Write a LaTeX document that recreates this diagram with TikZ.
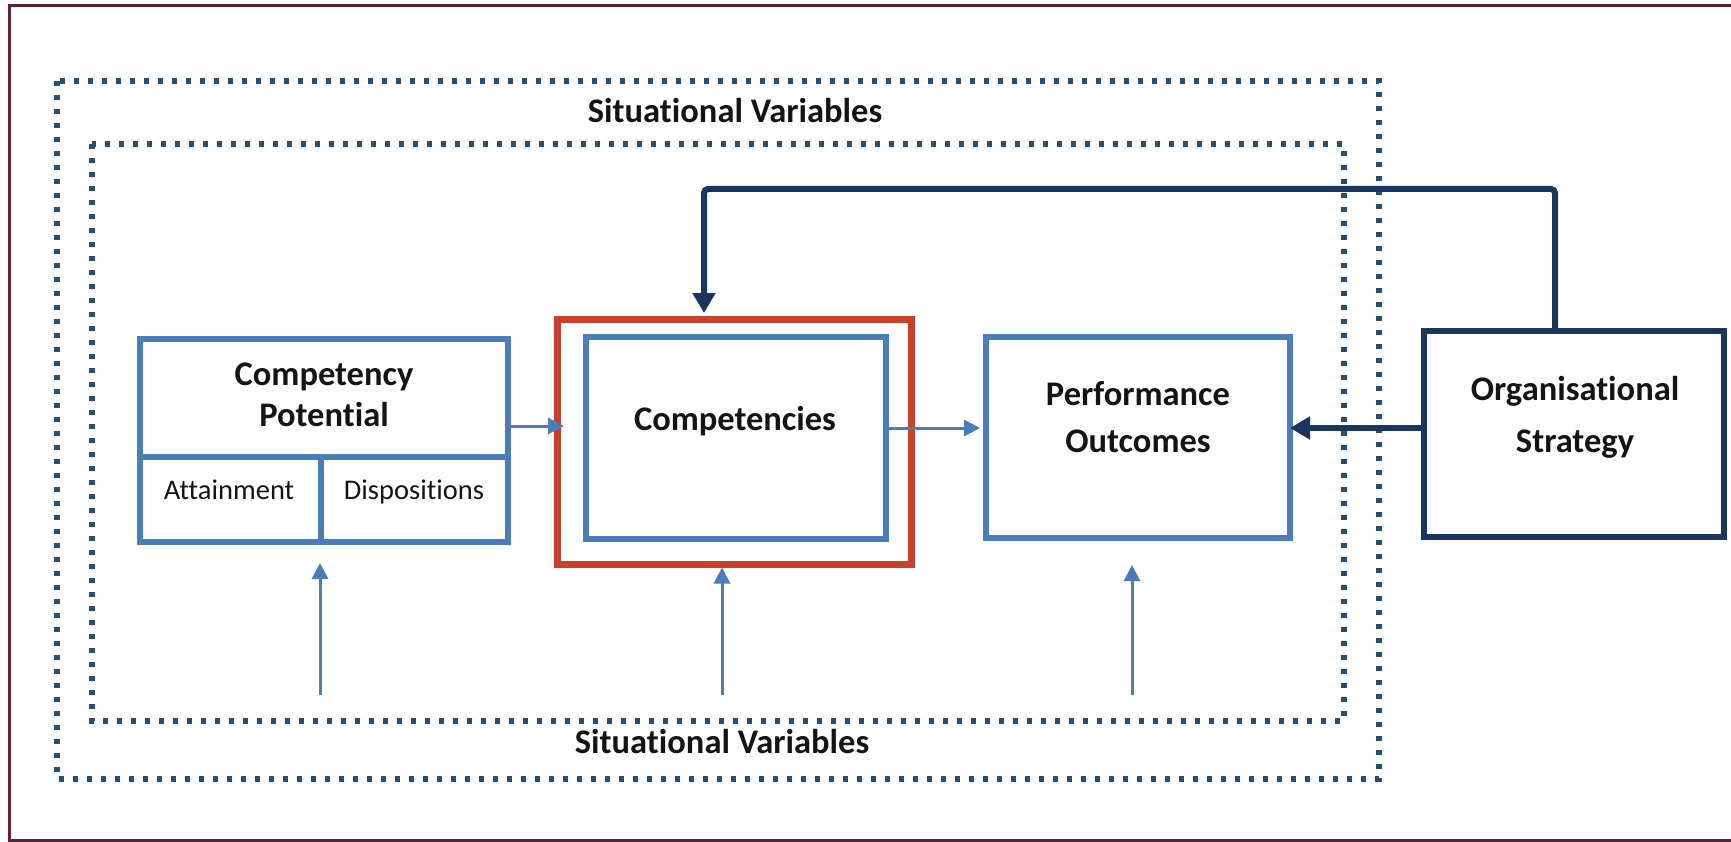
\documentclass[tikz,border=0pt]{standalone}
\usepackage{fontspec}
\setmainfont{Carlito}[Ligatures=NoCommon]
\usetikzlibrary{arrows.meta}

\definecolor{boxblue}{RGB}{74,126,187}
\definecolor{navy}{RGB}{24,54,94}
\definecolor{dotblue}{RGB}{34,80,124}
\definecolor{hilite}{RGB}{203,64,42}
\definecolor{framecol}{RGB}{94,34,62}
\definecolor{ink}{RGB}{20,20,20}

\tikzset{
  bluebox/.style={draw=boxblue, line width=6pt, rectangle, inner sep=0pt},
  navybox/.style={draw=navy, line width=6.5pt, rectangle, inner sep=0pt},
  redbox/.style={draw=hilite, line width=7pt, rectangle, inner sep=0pt},
  dotframe/.style={draw=dotblue, line width=5.5pt, dash pattern=on 5pt off 9pt},
  thinarrow/.style={draw=boxblue, line width=3pt, -{Triangle[length=16pt,width=16pt]}},
  navyarrow/.style={draw=navy, line width=6pt, -{Triangle[length=20pt,width=22pt]}},
  boldlabel/.style={font=\fontsize{34.5}{42}\selectfont\bfseries, text=ink, inner sep=0pt, anchor=base},
  svlabel/.style={font=\fontsize{34.5}{42}\selectfont\bfseries, text=ink, inner sep=0pt, anchor=base},
  smalllabel/.style={font=\fontsize{28.5}{34}\selectfont, text=ink, inner sep=0pt, anchor=base},
}

\begin{document}
\begin{tikzpicture}[x=1pt, y=-1pt]
\useasboundingbox (0,0) rectangle (1731,842);

% outer page frame, running off the right edge
\begin{scope}
  \clip (0,0) rectangle (1731,842);
  \draw[framecol, line width=3pt] (9,6) rectangle (1790,840);
\end{scope}

% situational variable frames
\draw[dotframe] (57,81) rectangle (1379,779);
\draw[dotframe] (92,144) rectangle (1344,721);
\node[svlabel] (svtop) at (735,123) {Situational Variables};
\node[svlabel] (svbot) at (722,753) {Situational Variables};

% competency potential block
\node[bluebox, minimum width=368pt, minimum height=118pt] (cptop) at (324,398) {};
\node[bluebox, minimum width=181pt, minimum height=85pt] (att) at (230.5,499.5) {};
\node[bluebox, minimum width=187pt, minimum height=85pt] (disp) at (414.5,499.5) {};
\node[boldlabel] (cptxt1) at (324,385) {Competency};
\node[boldlabel] (cptxt2) at (324,426) {Potential};
\node[smalllabel] (atttxt) at (229,499) {Attainment};
\node[smalllabel] (disptxt) at (414,499) {Dispositions};

% competencies with highlight frame
\node[redbox, minimum width=354pt, minimum height=245pt] (red) at (734,441.5) {};
\node[bluebox, minimum width=300pt, minimum height=202pt] (comp) at (736,438) {};
\node[boldlabel] (comptxt) at (735,430) {Competencies};

% performance outcomes
\node[bluebox, minimum width=304pt, minimum height=201pt] (perf) at (1138,437.5) {};
\node[boldlabel] (perftxt1) at (1138,405) {Performance};
\node[boldlabel] (perftxt2) at (1138,452) {Outcomes};

% organisational strategy
\node[navybox, minimum width=300pt, minimum height=206pt] (org) at (1574,434) {};
\node[boldlabel] (orgtxt1) at (1575,400) {Organisational};
\node[boldlabel] (orgtxt2) at (1575,452) {Strategy};

% horizontal flow
\coordinate (ya) at (0,426);
\coordinate (yb) at (0,428);
\draw[thinarrow, shorten >=19pt] (cptop.east |- ya) -- (comp.west |- ya);
\draw[thinarrow, shorten >=3pt] (comp.east |- yb) -- (perf.west |- yb);
\draw[navyarrow, shorten >=-3pt] (org.west |- yb) -- (perf.east |- yb);

% strategy feedback loop
\coordinate (fbR) at (1555,189);
\coordinate (fbL) at (704,189);
\draw[navyarrow, rounded corners=4pt, shorten >=2.5pt] (org.north -| fbR) -- (fbR) -- (fbL) -- (red.north -| fbL);

% situational influences from below
\coordinate (s1) at (320,695);
\coordinate (s2) at (722,695);
\coordinate (s3) at (1132,695);
\draw[thinarrow, shorten >=18pt] (s1) -- (s1 |- att.south);
\draw[thinarrow] (s2) -- (s2 |- red.south);
\draw[thinarrow, shorten >=24pt] (s3) -- (s3 |- perf.south);
\end{tikzpicture}
\end{document}
